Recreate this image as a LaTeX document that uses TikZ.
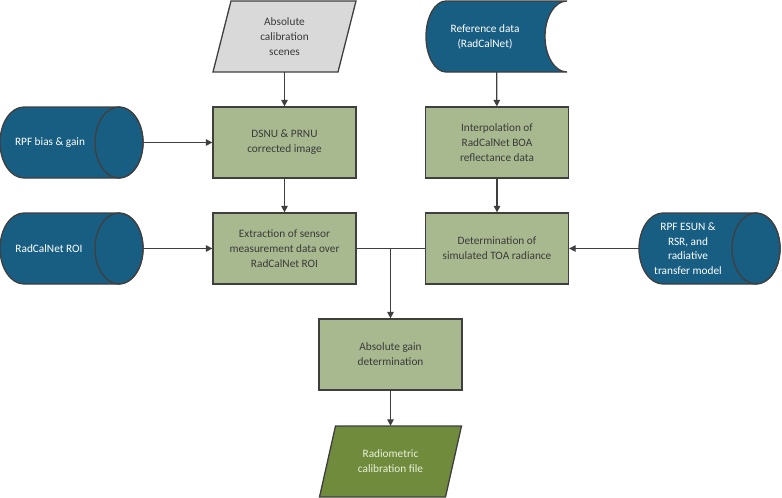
\documentclass[tikz,border=0pt]{standalone}
\usepackage{fontspec}
\setmainfont{Carlito}
\usetikzlibrary{arrows.meta}
\definecolor{cblue}{HTML}{185E82}
\definecolor{cgreen}{HTML}{A9B98F}
\definecolor{cdgreen}{HTML}{6F8B3B}
\definecolor{cgray}{HTML}{D9D9D9}
\definecolor{cline}{HTML}{3F3F3F}
\definecolor{ctext}{HTML}{3A3A3A}
\definecolor{ccream}{HTML}{EAF0DD}
\begin{document}
\begin{tikzpicture}[x=1pt,y=1pt,
  font=\fontsize{11.3}{15}\selectfont,
  outline/.style={draw=cline, line width=1.3pt},
  box/.style={outline, fill=cgreen, text=ctext, minimum width=143pt, minimum height=71pt, align=center, inner sep=0pt},
  area/.style={minimum width=143pt, minimum height=71pt, inner sep=0pt},
  wtext/.style={text=white, align=center, inner sep=0pt},
  arr/.style={draw=cline, line width=1.3pt, -{Triangle[length=6.5pt,width=6.5pt]}},
  link/.style={draw=cline, line width=1.3pt}]
\useasboundingbox (0,0) rectangle (782,-498);

% --- Absolute calibration scenes (parallelogram)
\path[outline, fill=cgray] (231,-1) -- (356,-1) -- (338,-72) -- (213,-72) -- cycle;
\node[area, text=ctext, align=center] (scenes) at (284.5,-36.5) {Absolute\\calibration\\scenes};

% --- Reference data (stored data shape)
\path[outline, fill=cblue] (446,-1) -- (567,-1)
  arc[start angle=90, end angle=270, x radius=22, y radius=35.5]
  -- (446,-72) arc[start angle=270, end angle=90, x radius=20, y radius=35.5] -- cycle;
\node[area, minimum width=141pt] (ref) at (496.5,-36.5) {};
\node[wtext] (reft) at (485,-36.5) {Reference data\\(RadCalNet)};

% --- RPF bias & gain (cylinder)
\path[outline, fill=cblue] (24,-107) -- (119,-107)
  arc[start angle=90, end angle=-90, x radius=24, y radius=35.5]
  -- (24,-178) arc[start angle=270, end angle=90, x radius=24, y radius=35.5] -- cycle;
\path[outline, fill=cblue] (119,-142.5) ellipse[x radius=24, y radius=35.5];
\node[area] (bias) at (71.5,-142.5) {};
\node[wtext] (biast) at (50,-142.5) {RPF bias \& gain};

% --- RadCalNet ROI (cylinder)
\path[outline, fill=cblue] (24,-213) -- (119,-213)
  arc[start angle=90, end angle=-90, x radius=24, y radius=35.5]
  -- (24,-284) arc[start angle=270, end angle=90, x radius=24, y radius=35.5] -- cycle;
\path[outline, fill=cblue] (119,-248.5) ellipse[x radius=24, y radius=35.5];
\node[area] (roi) at (71.5,-248.5) {};
\node[wtext] (roit) at (49,-248.5) {RadCalNet ROI};

% --- RPF ESUN (cylinder)
\path[outline, fill=cblue] (663,-213) -- (756,-213)
  arc[start angle=90, end angle=-90, x radius=24, y radius=35.5]
  -- (663,-284) arc[start angle=270, end angle=90, x radius=24, y radius=35.5] -- cycle;
\path[outline, fill=cblue] (756,-248.5) ellipse[x radius=24, y radius=35.5];
\node[area, minimum width=141pt] (esun) at (709.5,-248.5) {};
\node[wtext, font=\fontsize{11.3}{14.5}\selectfont] (esunt) at (688,-248.5) {RPF ESUN \&\\RSR, and\\radiative\\transfer model};

% --- process boxes
\node[box] (dsnu) at (284.5,-142.5) {DSNU \& PRNU\\corrected image};
\node[box] (interp) at (497,-142.5) {Interpolation of\\RadCalNet BOA\\reflectance data};
\node[box] (extr) at (284.5,-248.5) {Extraction of sensor\\measurement data over\\RadCalNet ROI};
\node[box] (det) at (497,-248.5) {Determination of\\simulated TOA radiance};
\node[box] (gain) at (390.5,-354.5) {Absolute gain\\determination};

% --- Radiometric calibration file (parallelogram)
\path[outline, fill=cdgreen] (335.5,-426) -- (461.5,-426) -- (445.5,-497) -- (319.5,-497) -- cycle;
\node[area, text=ccream, align=center] (file) at (390.5,-461.5) {Radiometric\\calibration file};

% --- connectors
\draw[arr] (scenes) -- (dsnu);
\draw[arr] (dsnu) -- (extr);
\draw[arr] (ref) -- (interp);
\draw[arr] (interp) -- (det);
\draw[arr] (bias) -- (dsnu);
\draw[arr] (roi) -- (extr);
\draw[arr] (esun) -- (det);
\draw[link] (extr.east) -- (det.west);
\coordinate (j) at (extr.east -| gain.north);
\draw[arr] (j) -- (gain);
\draw[arr] (gain) -- (file);
\end{tikzpicture}
\end{document}
